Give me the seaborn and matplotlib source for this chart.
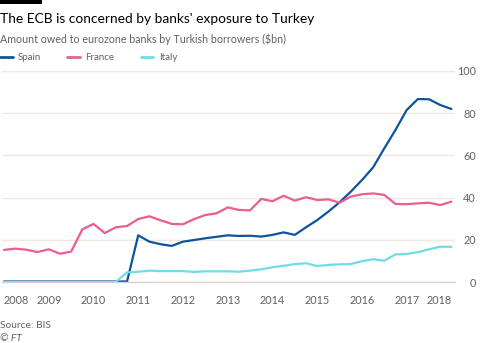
import numpy as np
import pandas as pd
import matplotlib
matplotlib.use("Agg")
import matplotlib.pyplot as plt
from matplotlib.patches import Rectangle
from matplotlib.ticker import FixedLocator
import seaborn as sns

# ---- data (quarterly, 2008 Q1 .. 2018 Q1) ----
quarters = [2008 + i / 4 for i in range(41)]
spain = [0.4, 0.4, 0.4, 0.4, 0.4, 0.4, 0.4, 0.4, 0.4, 0.4,
         0.4, 0.4, 22.2, 19.2, 18.0, 17.2, 19.2, 20.0, 20.8, 21.5,
         22.2, 21.9, 22.0, 21.6, 22.4, 23.6, 22.4, 26.0, 29.4, 33.4,
         37.8, 42.8, 48.3, 54.3, 63.3, 72.0, 81.4, 86.6, 86.5, 83.8, 81.9]
france = [15.3, 15.9, 15.4, 14.3, 15.6, 13.5, 14.5, 25.0, 27.6, 23.3,
          26.0, 26.6, 29.9, 31.2, 29.3, 27.6, 27.4, 29.9, 31.8, 32.6,
          35.4, 34.2, 34.0, 39.4, 38.3, 40.9, 38.6, 40.2, 38.9, 39.2,
          37.6, 40.5, 41.6, 42.0, 41.3, 37.0, 36.9, 37.3, 37.6, 36.5, 38.1]
italy = [0.2, 0.2, 0.2, 0.2, 0.2, 0.2, 0.2, 0.2, 0.2, 0.2,
         0.2, 4.7, 5.0, 5.5, 5.3, 5.3, 5.3, 4.9, 5.2, 5.2,
         5.2, 5.0, 5.5, 6.1, 7.1, 7.8, 8.6, 9.0, 7.7, 8.2,
         8.5, 8.6, 10.0, 10.9, 10.2, 13.2, 13.4, 14.2, 15.6, 16.8, 16.8]
series_names = ["Spain", "France", "Italy"]
year_ticks = list(range(2008, 2019))
year_labels = [str(y) for y in year_ticks]
y_ticks = [0, 20, 40, 60, 80, 100]

title = "The ECB is concerned by banks' exposure to Turkey"
subtitle = "Amount owed to eurozone banks by Turkish borrowers ($bn)"
source = "Source: BIS"
credit = "© FT"

colors = {"Spain": "#0f5499", "France": "#eb5e8d", "Italy": "#70dce6"}

df = pd.DataFrame({
    "date": quarters * 3,
    "value": spain + france + italy,
    "country": [n for n in series_names for _ in quarters],
})

sns.set_theme(style="white")
FONT = "Lato"
plt.rcParams["font.family"] = [FONT, "DejaVu Sans"]

W, H = 480, 343
fig = plt.figure(figsize=(W / 100, H / 100), dpi=100)
fig.patch.set_facecolor("white")

px_per_year = (451.4 - 4.0) / 10
x_left = 2008 - (4.0 - 2.0) / px_per_year
x_right = 2018 + (455.0 - 451.4) / px_per_year
ax_left, ax_right = 2.0, 455.0
ax_top, ax_bottom = 70.7, 282.3
ax = fig.add_axes([ax_left / W, 1 - ax_bottom / H,
                   (ax_right - ax_left) / W, (ax_bottom - ax_top) / H])

sns.lineplot(data=df, x="date", y="value", hue="country", hue_order=series_names,
             palette=colors, linewidth=1.6, ax=ax, legend=True)
for ln in ax.lines:
    ln.set_clip_on(False)
    ln.set_solid_joinstyle("round")

ax.set_xlim(x_left, x_right)
ax.set_ylim(0, 100)
ax.set_xlabel("")
ax.set_ylabel("")

# grid
grid_c = "#efe9e3"
ax.yaxis.grid(True, color=grid_c, linewidth=1.0)
ax.xaxis.grid(False)
ax.set_axisbelow(True)
for s in ["top", "right", "left"]:
    ax.spines[s].set_visible(False)
ax.spines["bottom"].set_color("#d9d2cb")
ax.spines["bottom"].set_linewidth(1.0)

# y ticks on right
ax.yaxis.tick_right()
ax.set_yticks(y_ticks)
ax.set_yticklabels([str(v) for v in y_ticks])
ax.tick_params(axis="y", length=0, pad=15, labelsize=7.8, labelcolor="#66605c")
for lbl in ax.get_yticklabels():
    lbl.set_horizontalalignment("right")

# x ticks
ax.set_xticks(year_ticks)
ax.set_xticklabels(year_labels)
ax.xaxis.set_minor_locator(FixedLocator(quarters))
ax.tick_params(axis="x", which="both", direction="out", length=4.5, width=0.8,
               color="#d9d2cb", labelsize=7.8, labelcolor="#66605c", pad=5)
xl = ax.get_xticklabels()
xl[0].set_horizontalalignment("left")
xl[-1].set_horizontalalignment("right")

# legend
leg = ax.legend(loc="upper left", bbox_to_anchor=(-2.0 / (ax_right - ax_left), 1 + 17.5 / (ax_bottom - ax_top)),
                ncol=3, frameon=False, handlelength=1.3, handletextpad=0.55,
                columnspacing=2.7, fontsize=7.0, borderaxespad=0, borderpad=0)
for t in leg.get_texts():
    t.set_color("#66605c")
for h in leg.legend_handles:
    h.set_linewidth(2.0)

# header texts
fig.add_artist(Rectangle((0, 1 - 3.5 / H), 41.5 / W, 3.5 / H, transform=fig.transFigure,
                         color="#000000", lw=0))
fig.text(0.5 / W, 1 - 22.7 / H, title, fontsize=9.9, color="#000000", va="baseline", ha="left")
fig.text(0.5 / W, 1 - 42.7 / H, subtitle, fontsize=7.7, color="#66605c", va="baseline", ha="left")
fig.text(0.5 / W, 1 - 328.3 / H, source, fontsize=7.4, color="#66605c", va="baseline", ha="left")
fig.text(0.5 / W, 1 - 341.0 / H, credit, fontsize=7.4, color="#66605c", va="baseline", ha="left",
         style="italic")

fig.savefig("out.png", dpi=100, facecolor="white")
